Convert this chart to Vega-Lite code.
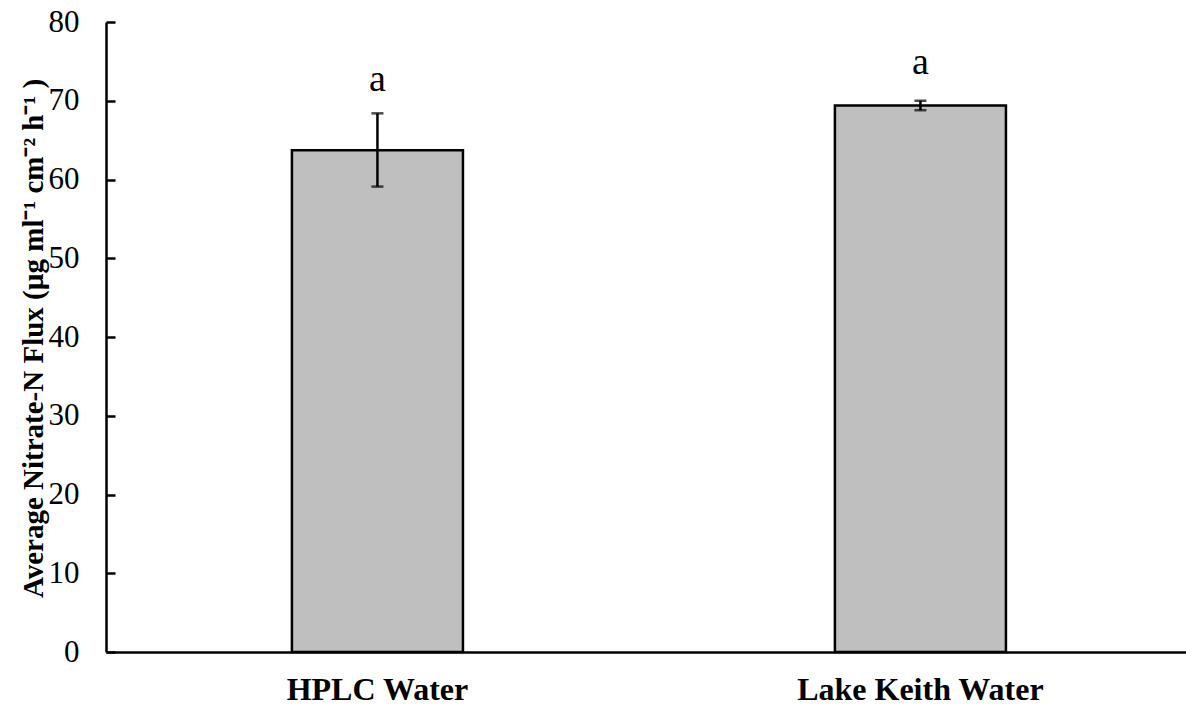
{
  "$schema": "https://vega.github.io/schema/vega-lite/v6.json",
  "autosize": {"type": "none"},
  "padding": {"left": 106, "top": 22, "right": 0, "bottom": 55},
  "width": 1080,
  "height": 630,
  "background": "white",
  "data": {
    "values": [
      {"group": "HPLC Water", "mean": 63.7, "lo": 59.1, "hi": 68.4, "letter": "a", "letter_y": 71.3},
      {"group": "Lake Keith Water", "mean": 69.4, "lo": 68.8, "hi": 70.0, "letter": "a", "letter_y": 73.4}
    ]
  },
  "encoding": {
    "x": {
      "field": "group",
      "type": "nominal",
      "sort": null,
      "scale": {"paddingInner": 0.685, "paddingOuter": 0.337, "align": 0.508},
      "axis": {
        "title": null,
        "labelAngle": 0,
        "labelLimit": 0,
        "ticks": false,
        "tickSize": 0,
        "domain": true,
        "domainColor": "black",
        "domainWidth": 2.5,
        "labelFont": "Liberation Serif",
        "labelFontWeight": "bold",
        "labelFontSize": 32,
        "labelColor": "black",
        "labelPadding": 22
      }
    }
  },
  "layer": [
    {
      "mark": {"type": "bar", "fill": "#bfbfbf", "stroke": "black", "strokeWidth": 2.5},
      "encoding": {
        "y": {
          "field": "mean",
          "type": "quantitative",
          "scale": {"domain": [0, 80], "nice": false},
          "axis": {
            "title": "Average Nitrate-N Flux (µg ml⁻¹ cm⁻² h⁻¹ )",
            "titleFont": "Liberation Serif",
            "titleFontWeight": "bold",
            "titleFontSize": 29,
            "titleColor": "black",
            "titleAngle": -90,
            "titleAlign": "center",
            "titleBaseline": "alphabetic",
            "titleX": -64,
            "titleY": 316,
            "values": [0, 10, 20, 30, 40, 50, 60, 70, 80],
            "grid": false,
            "domainColor": "black",
            "domainWidth": 2.5,
            "tickColor": "black",
            "tickWidth": 2.5,
            "tickSize": -9,
            "labelFont": "Liberation Serif",
            "labelFontSize": 31,
            "labelColor": "black",
            "labelPadding": 36
          }
        }
      }
    },
    {
      "mark": {"type": "rule", "color": "black", "strokeWidth": 2.5},
      "encoding": {
        "y": {"field": "lo", "type": "quantitative"},
        "y2": {"field": "hi"}
      }
    },
    {
      "mark": {"type": "tick", "color": "black", "size": 12, "thickness": 2.5},
      "encoding": {
        "y": {"field": "lo", "type": "quantitative"}
      }
    },
    {
      "mark": {"type": "tick", "color": "black", "size": 12, "thickness": 2.5},
      "encoding": {
        "y": {"field": "hi", "type": "quantitative"}
      }
    },
    {
      "mark": {"type": "text", "font": "Liberation Serif", "fontSize": 38, "color": "black", "baseline": "alphabetic", "align": "center"},
      "encoding": {
        "y": {"field": "letter_y", "type": "quantitative"},
        "text": {"field": "letter"}
      }
    }
  ],
  "config": {
    "view": {"stroke": null}
  }
}
